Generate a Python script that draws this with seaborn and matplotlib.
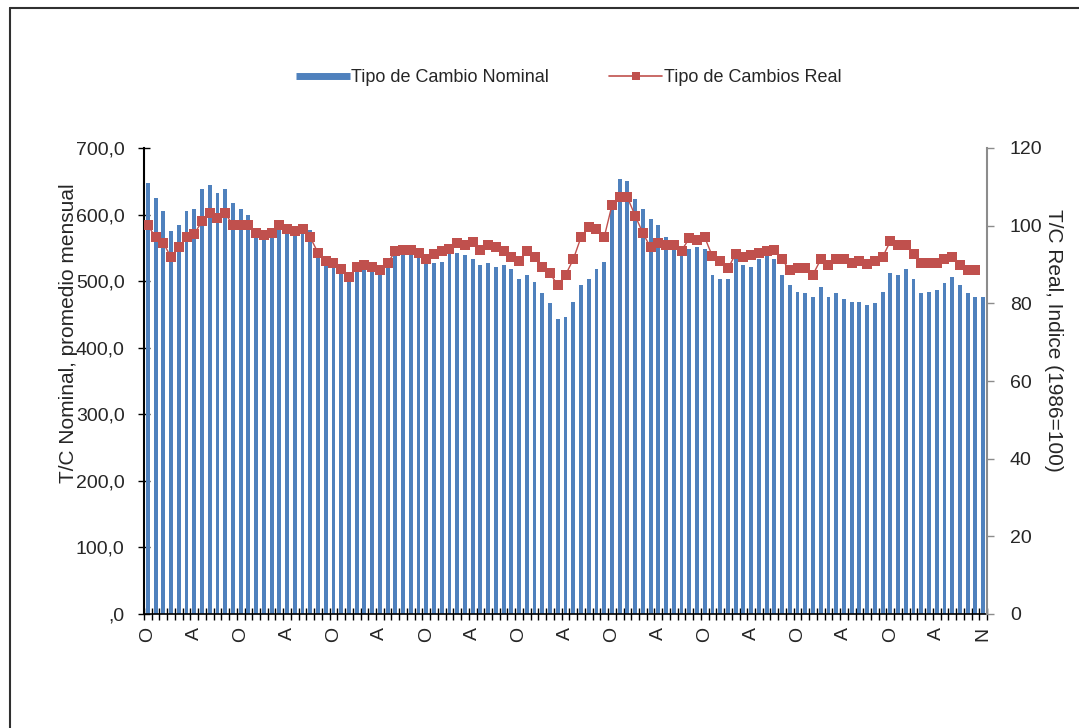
import numpy as np
import pandas as pd
import matplotlib
matplotlib.use("Agg")
import matplotlib.pyplot as plt
import seaborn as sns
from matplotlib.lines import Line2D
from matplotlib.ticker import FuncFormatter, MultipleLocator

# ---- data (monthly) ----
nominal = [647, 625, 605, 575, 584, 605, 608, 638, 644, 632, 638, 617,
           608, 599, 578, 572, 575, 585, 578, 572, 575, 577, 537, 530,
           527, 522, 512, 519, 519, 517, 514, 522, 539, 542, 539, 538,
           532, 527, 529, 542, 542, 539, 533, 524, 527, 521, 524, 518,
           503, 509, 499, 482, 467, 443, 446, 469, 494, 503, 518, 529,
           607, 653, 651, 623, 608, 593, 584, 566, 562, 547, 548, 551,
           548, 509, 503, 503, 534, 524, 521, 534, 539, 533, 509, 494,
           484, 482, 476, 491, 476, 482, 473, 469, 469, 464, 467, 484,
           512, 509, 518, 503, 482, 484, 487, 497, 506, 494, 482, 476,
           476]

real = [100.1, 97.0, 95.5, 91.9, 94.4, 97.0, 97.9, 101.1, 103.2, 102.1, 103.2, 100.1,
        100.1, 100.1, 98.1, 97.7, 98.1, 100.3, 99.2, 98.5, 99.2, 97.0, 93.0, 90.8,
        90.4, 88.9, 86.7, 89.3, 90.0, 89.3, 88.7, 90.4, 93.4, 93.8, 93.8, 93.0,
        91.5, 92.6, 93.6, 94.1, 95.5, 95.1, 95.8, 93.8, 94.9, 94.4, 93.4, 91.9,
        90.8, 93.6, 91.9, 89.3, 87.7, 84.7, 87.3, 91.3, 97.0, 99.6, 99.2, 97.0,
        105.2, 107.3, 107.3, 102.6, 98.1, 94.4, 95.5, 94.9, 94.9, 93.6, 96.7, 96.2,
        97.0, 92.1, 91.0, 89.0, 92.7, 91.9, 92.4, 93.0, 93.4, 93.8, 91.3, 88.5,
        89.0, 89.0, 87.4, 91.3, 89.8, 91.5, 91.5, 90.4, 90.8, 90.2, 90.8, 91.9,
        96.0, 95.0, 95.0, 92.7, 90.4, 90.4, 90.4, 91.5, 91.9, 89.8, 88.5, 88.5]

tick_positions = [0, 6, 12, 18, 24, 30, 36, 42, 48, 54, 60, 66, 72, 78, 84, 90, 96, 102, 108]
tick_labels = ["O", "A", "O", "A", "O", "A", "O", "A", "O", "A",
               "O", "A", "O", "A", "O", "A", "O", "A", "N"]

series_names = ["Tipo de Cambio Nominal", "Tipo de Cambios Real"]
left_label = "T/C Nominal, promedio mensual"
right_label = "T/C Real, Indice (1986=100)"

BLUE = "#4F81BD"
RED = "#C0504D"

sns.set_theme(style="white")
plt.rcParams["font.family"] = ["Liberation Sans", "DejaVu Sans"]

W, H = 1079, 728
fig = plt.figure(figsize=(W / 100, H / 100), dpi=100)
fig.patch.set_facecolor("white")

x0, x1, y0, y1 = 144, 987, 614, 148
ax = fig.add_axes([x0 / W, 1 - y0 / H, (x1 - x0) / W, (y0 - y1) / H])

n = len(nominal)
df_n = pd.DataFrame({"mes": np.arange(n), "valor": nominal})
sns.barplot(data=df_n, x="mes", y="valor", color=BLUE, saturation=1,
            width=0.5, linewidth=0, ax=ax)
ax.set_ylim(0, 700)
ax.set_xlim(-0.5, n - 0.5)
ax.set_xlabel("")
ax.set_ylabel("")

ax2 = ax.twinx()
df_r = pd.DataFrame({"mes": np.arange(len(real)), "valor": real})
sns.lineplot(data=df_r, x="mes", y="valor", color=RED, marker="s",
             markersize=7.5, markeredgewidth=0, linewidth=1.0, ax=ax2)
ax2.set_ylim(0, 120)
ax2.set_xlim(-0.5, n - 0.5)
ax2.set_xlabel("")
ax2.set_ylabel("")

# x axis ticks
ax.set_xticks(tick_positions)
ax.set_xticklabels(tick_labels, rotation=90, fontsize=14)
ax.set_xticks(np.arange(-0.5, n, 1), minor=True)
ax.tick_params(axis="x", which="major", bottom=True, length=0, pad=9)
ax.tick_params(axis="x", which="minor", bottom=True, length=8, width=1,
               direction="inout", color="black")

# left y
ax.yaxis.set_major_locator(MultipleLocator(100))
ax.yaxis.set_major_formatter(FuncFormatter(
    lambda v, p: ",0" if v == 0 else f"{v:.1f}".replace(".", ",")))
ax.tick_params(axis="y", left=True, length=8, width=1, direction="inout",
               color="black", labelsize=14, pad=10)

# right y
ax2.yaxis.set_major_locator(MultipleLocator(20))
ax2.yaxis.set_major_formatter(FuncFormatter(lambda v, p: f"{v:.0f}"))
ax2.tick_params(axis="y", right=True, left=False, length=5, width=1,
                direction="out", color="#8c8c8c", labelsize=14, pad=11.5)

for s in ["top", "right"]:
    ax.spines[s].set_visible(False)
ax.spines["left"].set_color("black")
ax.spines["bottom"].set_color("black")
ax.spines["left"].set_linewidth(1.5)
ax.spines["bottom"].set_linewidth(1.2)
for s in ["top", "left", "bottom"]:
    ax2.spines[s].set_visible(False)
ax2.spines["right"].set_color("#8c8c8c")
ax2.spines["right"].set_linewidth(1.5)
ax.grid(False)
ax2.grid(False)

# axis titles
fig.text(69 / W, 1 - 333 / H, left_label, rotation=90, ha="center",
         va="center", fontsize=15)
fig.text(1053 / W, 1 - 340 / H, right_label, rotation=270, ha="center",
         va="center", fontsize=15)

# legend
handles = [Line2D([0], [0], color=BLUE, lw=5, solid_capstyle="butt"),
           Line2D([0], [0], color=RED, lw=1.2, marker="s", markersize=6,
                  markeredgewidth=0)]
fig.legend(handles, series_names, loc="center",
           bbox_to_anchor=(569 / W, 1 - 78 / H), ncol=2, frameon=False,
           fontsize=13, handlelength=2.95, handletextpad=0.1,
           columnspacing=3.3)

# chart-area border
fig.add_artist(Line2D([10 / W, 10 / W], [0, 1 - 8 / H], transform=fig.transFigure,
                      color="#303030", lw=1.5))
fig.add_artist(Line2D([10 / W, 1], [1 - 8 / H, 1 - 8 / H], transform=fig.transFigure,
                      color="#303030", lw=1.5))

fig.savefig("out.png", dpi=100)
